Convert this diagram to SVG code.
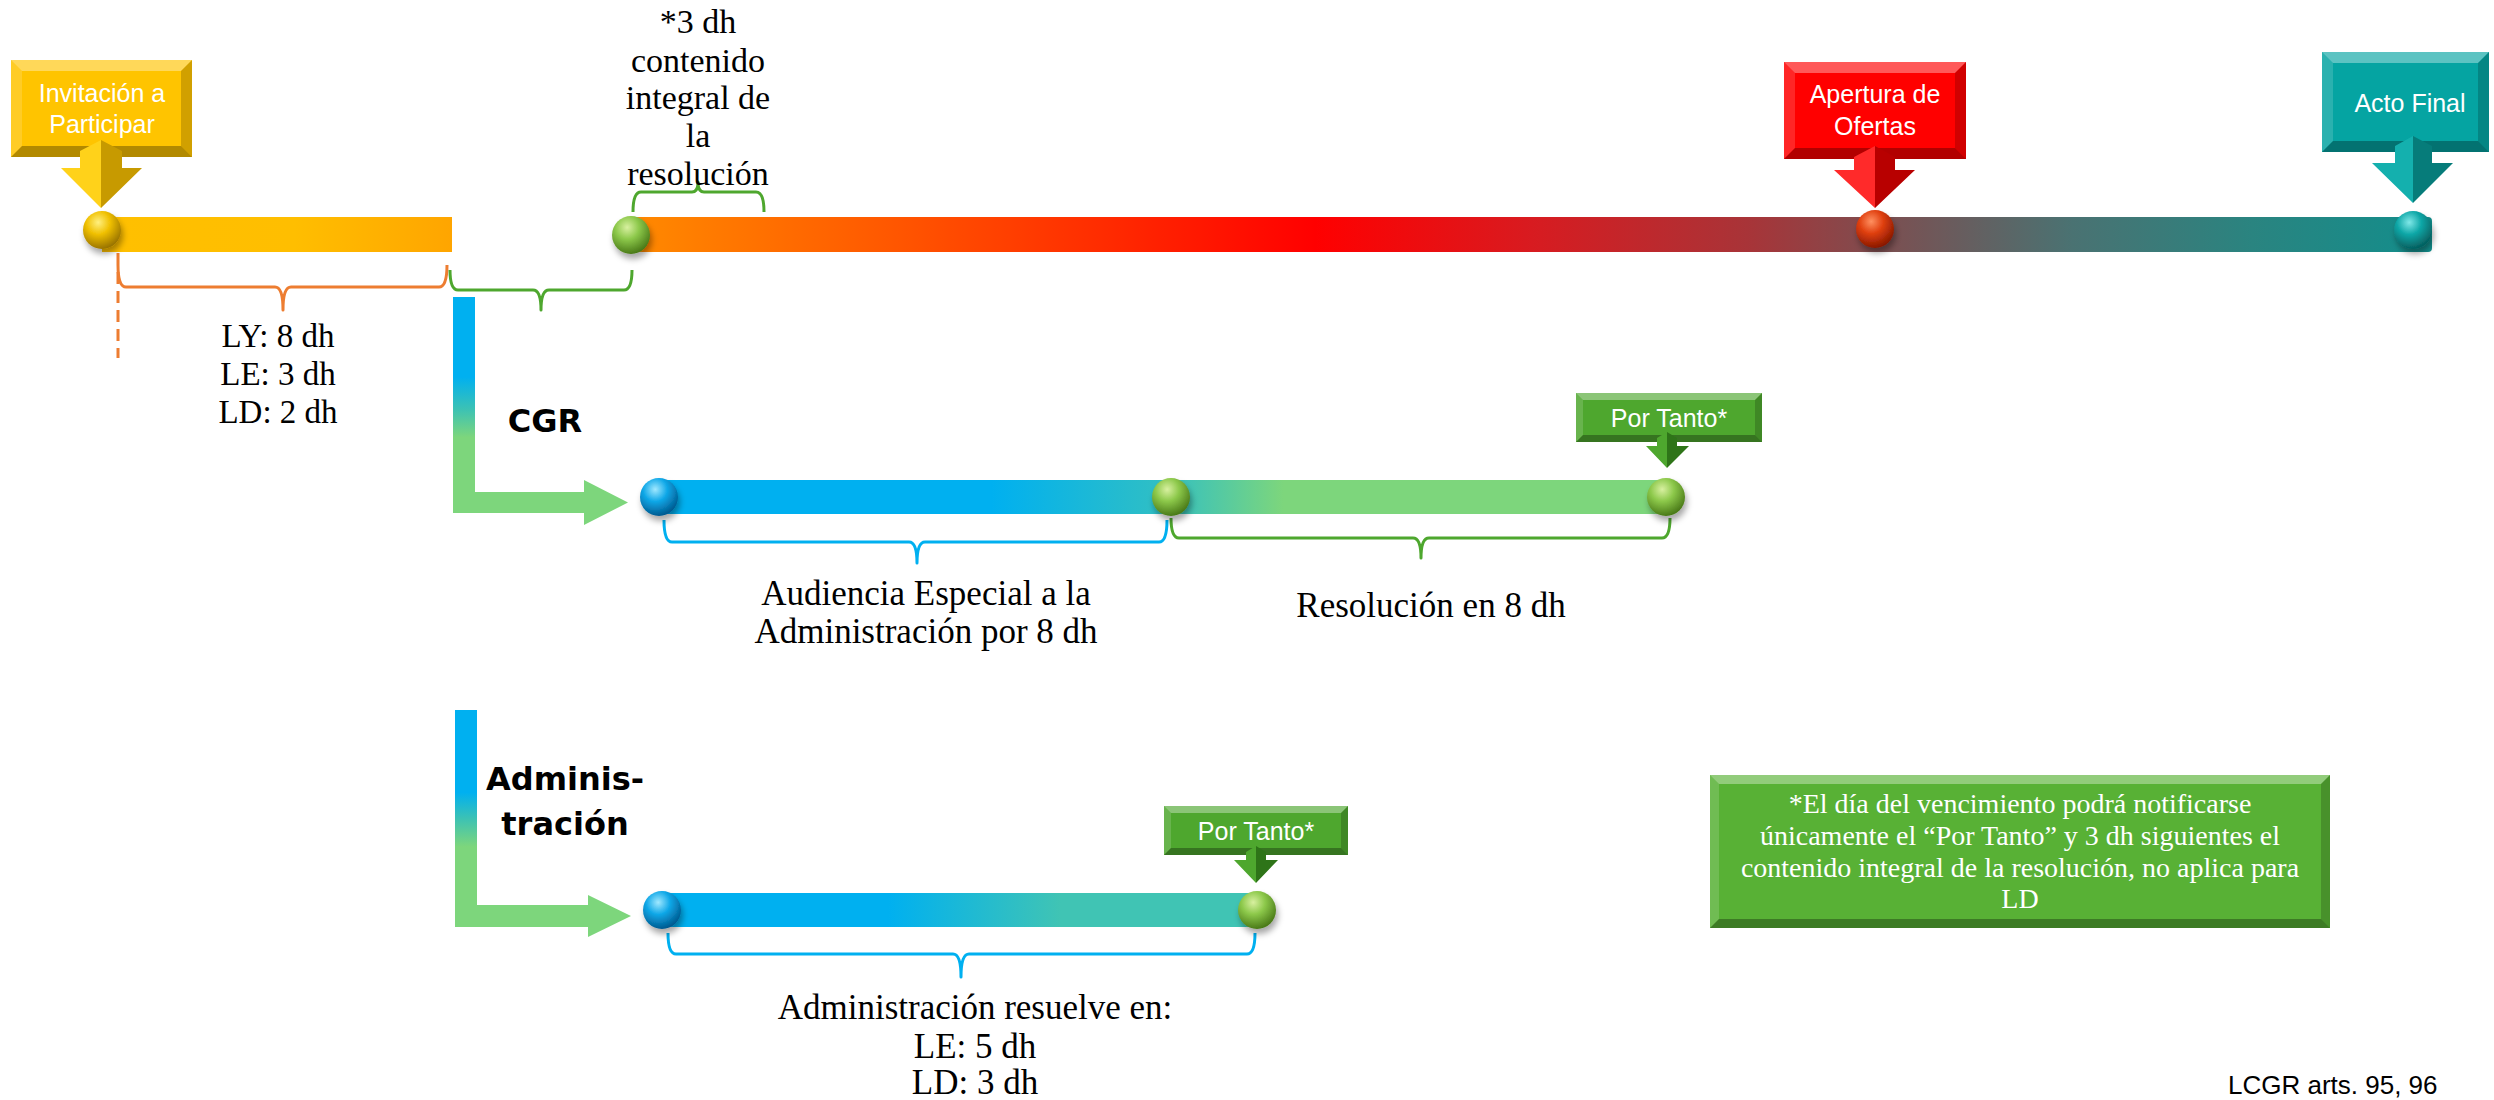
<svg xmlns="http://www.w3.org/2000/svg" width="2494" height="1100" viewBox="0 0 2494 1100">
<style>
.serif{font-family:"Liberation Serif","DejaVu Serif",serif;fill:#000;text-anchor:middle}
.lbl{font-family:"Liberation Sans","Noto Sans",sans-serif;fill:#fff;text-anchor:middle;font-size:25px}
.bold{font-family:"DejaVu Sans","Noto Sans",sans-serif;font-weight:bold;fill:#000;text-anchor:middle;font-size:32px}
.note{font-family:"Liberation Serif","DejaVu Serif",serif;fill:#fff;text-anchor:middle;font-size:28px}
.bt{fill:#fff;opacity:.35}
.bl{fill:#fff;opacity:.15}
.bb{fill:#000;opacity:.3}
.br{fill:#000;opacity:.18}
.brace{fill:none;stroke-width:3;stroke-linejoin:round}
.ball{filter:url(#shadow)}
</style>
<defs>
<filter id="shadow" x="-50%" y="-50%" width="200%" height="200%">
<feDropShadow dx="2" dy="5" stdDeviation="3" flood-color="#000" flood-opacity="0.35"/>
</filter>
<linearGradient id="gYellow" gradientUnits="userSpaceOnUse" x1="102" y1="0" x2="452" y2="0">
<stop offset="0" stop-color="#FFC000"/><stop offset="0.55" stop-color="#FFBE00"/><stop offset="1" stop-color="#FFA500"/>
</linearGradient>
<linearGradient id="gMain" gradientUnits="userSpaceOnUse" x1="631" y1="0" x2="2432" y2="0">
<stop offset="0" stop-color="#FF8A00"/><stop offset="0.12" stop-color="#FF6000"/><stop offset="0.38" stop-color="#FF0000"/><stop offset="0.5" stop-color="#D81B20"/><stop offset="0.62" stop-color="#A83438"/><stop offset="0.7" stop-color="#7A5052"/><stop offset="0.8" stop-color="#4A7272"/><stop offset="0.9" stop-color="#2A8480"/><stop offset="1" stop-color="#128E8C"/>
</linearGradient>
<linearGradient id="gCgr" gradientUnits="userSpaceOnUse" x1="659" y1="0" x2="1666" y2="0">
<stop offset="0" stop-color="#00B0F0"/><stop offset="0.33" stop-color="#00B0F0"/><stop offset="0.5" stop-color="#30BFC4"/><stop offset="0.62" stop-color="#7DD67C"/><stop offset="1" stop-color="#7DD67C"/>
</linearGradient>
<linearGradient id="gAdm" gradientUnits="userSpaceOnUse" x1="662" y1="0" x2="1257" y2="0">
<stop offset="0" stop-color="#00B0F0"/><stop offset="0.38" stop-color="#00B0F0"/><stop offset="0.67" stop-color="#40C4B4"/><stop offset="1" stop-color="#40C4B4"/>
</linearGradient>
<linearGradient id="gL1" gradientUnits="userSpaceOnUse" x1="0" y1="297" x2="0" y2="513">
<stop offset="0" stop-color="#00B0F0"/><stop offset="0.37" stop-color="#00B0F0"/><stop offset="0.52" stop-color="#3CC2B4"/><stop offset="0.65" stop-color="#7DD67C"/><stop offset="1" stop-color="#7DD67C"/>
</linearGradient>
<linearGradient id="gL2" gradientUnits="userSpaceOnUse" x1="0" y1="710" x2="0" y2="927">
<stop offset="0" stop-color="#00B0F0"/><stop offset="0.38" stop-color="#00B0F0"/><stop offset="0.5" stop-color="#3CC2B4"/><stop offset="0.63" stop-color="#7DD67C"/><stop offset="1" stop-color="#7DD67C"/>
</linearGradient>
<radialGradient id="bGold" cx="40%" cy="30%" r="70%"><stop offset="0" stop-color="#FFF080"/><stop offset="0.45" stop-color="#F0C000"/><stop offset="1" stop-color="#9A7400"/></radialGradient>
<radialGradient id="bGreen" cx="40%" cy="30%" r="70%"><stop offset="0" stop-color="#D8F0A0"/><stop offset="0.45" stop-color="#8CC84A"/><stop offset="1" stop-color="#4A7A18"/></radialGradient>
<radialGradient id="bRed" cx="40%" cy="30%" r="70%"><stop offset="0" stop-color="#FF9060"/><stop offset="0.45" stop-color="#E04010"/><stop offset="1" stop-color="#8A1800"/></radialGradient>
<radialGradient id="bTeal" cx="40%" cy="30%" r="70%"><stop offset="0" stop-color="#80E8E8"/><stop offset="0.45" stop-color="#10A8A8"/><stop offset="1" stop-color="#056060"/></radialGradient>
<radialGradient id="bBlue" cx="40%" cy="30%" r="70%"><stop offset="0" stop-color="#A0E8FF"/><stop offset="0.45" stop-color="#10A8E8"/><stop offset="1" stop-color="#005A90"/></radialGradient>
</defs>

<!-- bars -->
<g id="bars">
<rect x="102" y="217" width="350" height="35" fill="url(#gYellow)"/>
<rect x="631" y="217" width="1801" height="35" rx="4" fill="url(#gMain)"/>
<rect x="659" y="480" width="1007" height="34" fill="url(#gCgr)"/>
<rect x="662" y="893" width="595" height="34" fill="url(#gAdm)"/>
</g>

<!-- connectors -->
<g id="connectors">
<line x1="118" y1="253" x2="118" y2="358" stroke="#ED7D31" stroke-width="3" stroke-dasharray="12 7"/>
<path class="brace" stroke="#ED7D31" d="M118 265 Q118 287 126 287 L275 287 Q283 287 283 310 Q283 287 291 287 L439 287 Q447 287 447 265"/>
<path class="brace" stroke="#4EA72E" d="M450 270 Q450 290 458 290 L533 290 Q541 290 541 310 Q541 290 549 290 L624 290 Q632 290 632 270"/>
<path class="brace" stroke="#4EA72E" d="M633 212 Q633 192 641 192 L692 192 Q698 192 698 182 Q698 192 704 192 L756 192 Q764 192 764 212"/>
<path class="brace" stroke="#00B0F0" d="M664 520 Q664 542 672 542 L909 542 Q917 542 917 563 Q917 542 925 542 L1159 542 Q1167 542 1167 520"/>
<path class="brace" stroke="#4EA72E" d="M1171 518 Q1171 538 1179 538 L1413 538 Q1421 538 1421 558 Q1421 538 1429 538 L1662 538 Q1670 538 1670 518"/>
<path class="brace" stroke="#00B0F0" d="M668 933 Q668 954 676 954 L953 954 Q961 954 961 977 Q961 954 969 954 L1247 954 Q1255 954 1255 933"/>
<path id="arrowCGR" fill="url(#gL1)" d="M453 297 H475 V492 H584 V480 L628 502.5 L584 525 V513 H453 Z"/>
<path id="arrowAdm" fill="url(#gL2)" d="M455 710 H477 V905 H588 V895 L631 916 L588 937 V927 H455 Z"/>
</g>

<!-- balls -->
<g id="balls">
<circle class="ball" cx="102" cy="230" r="19" fill="url(#bGold)"/>
<circle class="ball" cx="631" cy="235" r="19" fill="url(#bGreen)"/>
<ellipse class="ball" cx="1875" cy="229" rx="19" ry="19" fill="url(#bRed)"/>
<circle class="ball" cx="2413" cy="230" r="19" fill="url(#bTeal)"/>
<circle class="ball" cx="659" cy="497" r="19" fill="url(#bBlue)"/>
<circle class="ball" cx="1171" cy="497" r="19" fill="url(#bGreen)"/>
<circle class="ball" cx="1666" cy="497" r="19" fill="url(#bGreen)"/>
<circle class="ball" cx="662" cy="910" r="19" fill="url(#bBlue)"/>
<circle class="ball" cx="1257" cy="910" r="19" fill="url(#bGreen)"/>
</g>

<!-- Invitación a Participar -->
<g id="node-invitacion">
<rect x="11" y="60" width="181" height="97" fill="#FFC400"/>
<polygon class="bt" points="11,60 192,60 181,71 22,71"/>
<polygon class="bl" points="11,60 22,71 22,146 11,157"/>
<polygon class="bb" points="11,157 192,157 181,146 22,146"/>
<polygon class="br" points="192,60 181,71 181,146 192,157"/>
<text class="lbl" x="102" y="102" font-size="26">Invitación a</text>
<text class="lbl" x="102" y="133" font-size="26">Participar</text>
<polygon points="101,140 80,151 80,168 61,168 101,208" fill="#FFD21A"/>
<polygon points="101,140 122,151 122,168 142,168 101,208" fill="#C79A00"/>
</g>

<!-- Apertura de Ofertas -->
<g id="node-apertura">
<rect x="1784" y="62" width="182" height="97" fill="#FF0000"/>
<polygon class="bt" points="1784,62 1966,62 1955,73 1795,73"/>
<polygon class="bl" points="1784,62 1795,73 1795,148 1784,159"/>
<polygon class="bb" points="1784,159 1966,159 1955,148 1795,148"/>
<polygon class="br" points="1966,62 1955,73 1955,148 1966,159"/>
<text class="lbl" x="1875" y="103">Apertura de</text>
<text class="lbl" x="1875" y="135">Ofertas</text>
<polygon points="1875,146 1854,157 1854,170 1834,170 1875,208" fill="#FF2A2A"/>
<polygon points="1875,146 1895,157 1895,170 1915,170 1875,208" fill="#B80000"/>
</g>

<!-- Acto Final -->
<g id="node-acto-final">
<rect x="2322" y="52" width="167" height="100" fill="#05A4A2"/>
<polygon class="bt" points="2322,52 2489,52 2478,63 2333,63"/>
<polygon class="bl" points="2322,52 2333,63 2333,141 2322,152"/>
<polygon class="bb" points="2322,152 2489,152 2478,141 2333,141"/>
<polygon class="br" points="2489,52 2478,63 2478,141 2489,152"/>
<text class="lbl" x="2410" y="112">Acto Final</text>
<polygon points="2413,136 2395,146 2395,163 2372,163 2413,203" fill="#14B0AE"/>
<polygon points="2413,136 2432,146 2432,163 2453,163 2413,203" fill="#067C7A"/>
</g>

<!-- CGR label -->
<g id="node-cgr">
<text class="bold" x="545" y="432" font-size="34">CGR</text>
</g>

<!-- Por Tanto (CGR) -->
<g id="node-portanto-1">
<rect x="1576" y="393" width="186" height="49" fill="#4EA72E"/>
<polygon class="bt" points="1576,393 1762,393 1755,400 1583,400"/>
<polygon class="bl" points="1576,393 1583,400 1583,435 1576,442"/>
<polygon class="bb" points="1576,442 1762,442 1755,435 1583,435"/>
<polygon class="br" points="1762,393 1755,400 1755,435 1762,442"/>
<text class="lbl" x="1669" y="427">Por Tanto*</text>
<polygon points="1667,432 1657,438 1657,446 1646,446 1667,468" fill="#4EA72E"/>
<polygon points="1667,432 1677,438 1677,446 1689,446 1667,468" fill="#2E7418"/>
</g>

<!-- Administración label -->
<g id="node-administracion">
<text class="bold" x="565" y="790">Adminis-</text>
<text class="bold" x="565" y="835">tración</text>
</g>

<!-- Por Tanto (Administración) -->
<g id="node-portanto-2">
<rect x="1164" y="806" width="184" height="49" fill="#4EA72E"/>
<polygon class="bt" points="1164,806 1348,806 1341,813 1171,813"/>
<polygon class="bl" points="1164,806 1171,813 1171,848 1164,855"/>
<polygon class="bb" points="1164,855 1348,855 1341,848 1171,848"/>
<polygon class="br" points="1348,806 1341,813 1341,848 1348,855"/>
<text class="lbl" x="1256" y="840">Por Tanto*</text>
<polygon points="1256,846 1246,852 1246,860 1234,860 1256,883" fill="#4EA72E"/>
<polygon points="1256,846 1266,852 1266,860 1278,860 1256,883" fill="#2E7418"/>
</g>

<!-- Note -->
<g id="node-nota">
<rect x="1710" y="775" width="620" height="153" fill="#58B135"/>
<polygon class="bt" points="1710,775 2330,775 2321,784 1719,784"/>
<polygon class="bl" points="1710,775 1719,784 1719,919 1710,928"/>
<polygon class="bb" points="1710,928 2330,928 2321,919 1719,919"/>
<polygon class="br" points="2330,775 2321,784 2321,919 2330,928"/>
<text class="note" x="2020" y="813">*El día del vencimiento podrá notificarse</text>
<text class="note" x="2020" y="845">únicamente el “Por Tanto” y 3 dh siguientes el</text>
<text class="note" x="2020" y="877">contenido integral de la resolución, no aplica para</text>
<text class="note" x="2020" y="908">LD</text>
</g>

<!-- texts -->
<g id="label-plazos" class="serif" font-size="33">
<text x="278" y="347">LY: 8 dh</text>
<text x="278" y="385">LE: 3 dh</text>
<text x="278" y="423">LD: 2 dh</text>
</g>
<g id="label-3dh" class="serif" font-size="34">
<text x="698" y="33">*3 dh</text>
<text x="698" y="72">contenido</text>
<text x="698" y="109">integral de</text>
<text x="698" y="147">la</text>
<text x="698" y="185">resolución</text>
</g>
<g id="label-audiencia" class="serif" font-size="35">
<text x="926" y="605">Audiencia Especial a la</text>
<text x="926" y="643">Administración por 8 dh</text>
</g>
<g id="label-resolucion" class="serif" font-size="35">
<text x="1431" y="617">Resolución en 8 dh</text>
</g>
<g id="label-adm-resuelve" class="serif" font-size="35">
<text x="975" y="1019">Administración resuelve en:</text>
<text x="975" y="1058">LE: 5 dh</text>
<text x="975" y="1094">LD: 3 dh</text>
</g>
<g id="label-ref">
<text x="2228" y="1094" font-family="Liberation Sans, Arial, sans-serif" font-size="26" fill="#000">LCGR arts. 95, 96</text>
</g>
</svg>
